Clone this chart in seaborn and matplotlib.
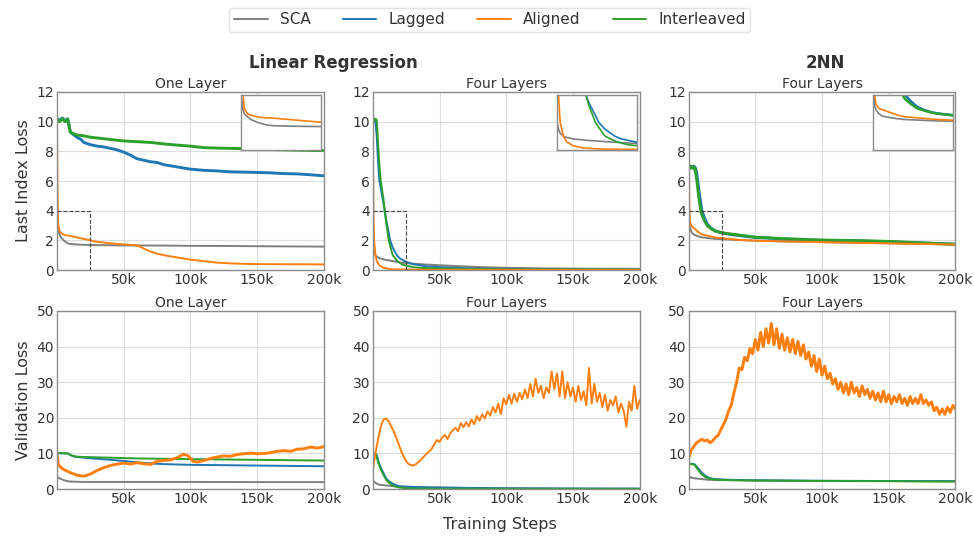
import numpy as np
import pandas as pd
import matplotlib
matplotlib.use("Agg")
import matplotlib.pyplot as plt
import seaborn as sns
from matplotlib.ticker import FuncFormatter
from matplotlib.lines import Line2D

# Colours per method
COLORS = {"SCA": "#7f7f7f", "Lagged": "#1f77b4", "Aligned": "#ff7f0e", "Interleaved": "#2ca02c"}
METHODS = ["SCA", "Lagged", "Aligned", "Interleaved"]

# ---------------- data (steps in thousands) ----------------
# Row 1: last index loss
LR1_SCA_X = [0, 0.5, 1, 2, 3, 5, 8, 10, 15, 20, 30, 50, 80, 100, 130, 160, 200]
LR1_SCA_Y = [4.0, 3.0, 2.6, 2.4, 2.2, 2.0, 1.8, 1.75, 1.72, 1.7, 1.68, 1.66, 1.65, 1.63, 1.62, 1.6, 1.58]
LR1_LAG_X = [0, 2, 4, 6, 8, 9, 10, 12, 15, 18, 20, 25, 30, 35, 40, 45, 50, 55, 60, 65, 70, 75, 80, 90,
             100, 110, 120, 130, 140, 150, 160, 170, 180, 190, 200]
LR1_LAG_Y = [10.2, 10.1, 10.25, 10.05, 10.2, 9.8, 9.3, 9.15, 8.95, 8.8, 8.6, 8.45, 8.35, 8.3, 8.2, 8.1, 7.95,
             7.75, 7.5, 7.4, 7.3, 7.25, 7.1, 6.95, 6.8, 6.72, 6.68, 6.62, 6.6, 6.58, 6.55, 6.5, 6.48, 6.42, 6.35]
LR1_ALI_X = [0, 0.3, 0.6, 1, 2, 4, 6, 10, 15, 20, 25, 30, 40, 50, 55, 60, 63, 66, 70, 75, 80, 90,
             100, 110, 120, 130, 140, 150, 175, 200]
LR1_ALI_Y = [10.0, 6.0, 4.0, 3.0, 2.6, 2.45, 2.35, 2.3, 2.2, 2.1, 2.0, 1.9, 1.8, 1.73, 1.7, 1.65, 1.55, 1.4,
             1.25, 1.1, 1.0, 0.85, 0.7, 0.6, 0.5, 0.45, 0.42, 0.4, 0.39, 0.38]
LR1_INT_X = [0, 2, 4, 6, 8, 9, 10, 12, 15, 20, 25, 30, 40, 50, 60, 70, 80, 90, 100, 110, 120, 130, 140,
             150, 160, 170, 180, 190, 200]
LR1_INT_Y = [10.15, 10.0, 10.2, 10.0, 10.15, 9.7, 9.3, 9.2, 9.1, 9.05, 8.95, 8.9, 8.8, 8.7, 8.65, 8.6,
             8.5, 8.42, 8.35, 8.25, 8.22, 8.2, 8.18, 8.15, 8.12, 8.1, 8.08, 8.06, 8.05]

LR4_SCA_X = [0, 0.5, 1, 2, 3, 5, 8, 10, 15, 20, 25, 30, 40, 60, 80, 100, 130, 160, 200]
LR4_SCA_Y = [2.0, 1.5, 1.2, 1.0, 0.9, 0.8, 0.72, 0.68, 0.6, 0.52, 0.47, 0.43, 0.37, 0.28, 0.2, 0.15, 0.11, 0.09, 0.08]
LR4_LAG_X = [0, 1, 2, 3, 4, 5, 6, 8, 9, 10, 12, 13, 15, 18, 20, 25, 30, 40, 60, 80, 100, 150, 200]
LR4_LAG_Y = [10.1, 10.2, 10.0, 9.0, 7.2, 6.0, 5.5, 4.5, 4.0, 3.4, 2.5, 2.0, 1.5, 1.0, 0.8, 0.55, 0.4, 0.25,
             0.15, 0.1, 0.08, 0.06, 0.05]
LR4_ALI_X = [0, 0.3, 0.6, 1, 2, 3, 5, 8, 12, 15, 20, 30, 50, 100, 200]
LR4_ALI_Y = [10.0, 6.0, 3.5, 2.0, 1.0, 0.6, 0.3, 0.15, 0.08, 0.05, 0.04, 0.03, 0.02, 0.02, 0.02]
LR4_INT_X = [0, 1, 2, 3, 4, 5, 6, 8, 9, 10, 12, 14, 15, 18, 20, 22, 25, 30, 35, 50, 80, 100, 200]
LR4_INT_Y = [10.2, 10.0, 10.2, 10.1, 8.5, 7.0, 6.0, 4.8, 4.0, 3.2, 2.0, 1.3, 1.0, 0.65, 0.5, 0.38, 0.3, 0.2,
             0.15, 0.1, 0.07, 0.05, 0.04]

NN4_SCA_X = [0, 0.3, 0.6, 1, 2, 3, 5, 8, 10, 15, 20, 25, 30, 50, 80, 100, 150, 200]
NN4_SCA_Y = [12.0, 5.0, 3.2, 2.9, 2.6, 2.45, 2.35, 2.25, 2.2, 2.15, 2.1, 2.08, 2.05, 1.98, 1.92, 1.88, 1.8, 1.75]
NN4_LAG_X = [0, 1, 2, 3, 4, 5, 6, 7, 8, 9, 10, 12, 14, 16, 18, 20, 25, 30, 40, 50, 70, 100, 130, 150, 175, 200]
NN4_LAG_Y = [7.1, 6.9, 7.0, 6.85, 7.0, 6.9, 6.6, 5.9, 5.2, 4.6, 4.0, 3.5, 3.1, 2.9, 2.75, 2.65, 2.5, 2.42,
             2.3, 2.2, 2.1, 2.0, 1.95, 1.9, 1.82, 1.75]
NN4_ALI_X = [0, 0.3, 0.6, 1, 2, 3, 5, 8, 10, 15, 20, 30, 40, 60, 100, 150, 200]
NN4_ALI_Y = [12.0, 7.0, 4.0, 3.3, 3.0, 2.9, 2.75, 2.5, 2.4, 2.3, 2.2, 2.1, 2.02, 1.95, 1.88, 1.8, 1.72]
NN4_INT_X = [0, 1, 2, 3, 4, 5, 6, 7, 8, 9, 10, 12, 14, 16, 18, 20, 25, 30, 40, 50, 70, 100, 130, 150, 175, 200]
NN4_INT_Y = [7.0, 6.85, 7.0, 6.9, 6.95, 6.7, 6.2, 5.4, 4.7, 4.1, 3.7, 3.3, 3.0, 2.85, 2.72, 2.62, 2.52, 2.45,
             2.33, 2.22, 2.12, 2.02, 1.98, 1.93, 1.83, 1.72]

# Row 2: validation loss
V_LR1_SCA_X = [0, 2, 5, 8, 10, 15, 20, 50, 100, 150, 200]
V_LR1_SCA_Y = [3.5, 3.0, 2.5, 2.2, 2.1, 2.05, 2.0, 2.0, 2.0, 1.95, 1.95]
V_LR1_LAG_X = [0, 4, 8, 10, 12, 15, 20, 30, 40, 50, 60, 70, 80, 90, 100, 125, 150, 175, 200]
V_LR1_LAG_Y = [10.1, 10.0, 10.0, 9.6, 9.2, 9.0, 8.8, 8.5, 8.2, 7.9, 7.5, 7.2, 7.0, 6.9, 6.8, 6.7, 6.6, 6.5, 6.4]
V_LR1_ALI_X = [0, 1, 3, 5, 10, 15, 20, 25, 30, 35, 40, 45, 50, 55, 60, 65, 70, 75, 80, 85, 90, 95, 98,
               102, 105, 110, 115, 120, 125, 130, 135, 140, 145, 150, 155, 160, 165, 170, 175, 180, 185,
               190, 195, 200]
V_LR1_ALI_Y = [10.0, 7.0, 6.0, 5.5, 4.6, 3.9, 3.6, 4.2, 5.2, 6.0, 6.6, 7.0, 7.3, 7.0, 7.4, 7.1, 6.9, 7.8,
               8.0, 8.2, 8.8, 9.8, 9.4, 7.8, 7.6, 8.0, 8.6, 9.0, 9.3, 9.2, 9.7, 9.9, 10.1, 9.9, 10.0, 10.2,
               10.6, 10.8, 10.6, 11.2, 11.3, 11.8, 11.5, 11.9]
V_LR1_INT_X = [0, 4, 8, 10, 12, 15, 20, 30, 40, 60, 80, 100, 125, 150, 175, 200]
V_LR1_INT_Y = [10.1, 10.1, 10.0, 9.6, 9.3, 9.1, 9.0, 8.9, 8.8, 8.6, 8.5, 8.4, 8.3, 8.2, 8.1, 8.0]

V_LR4_SCA_X = [0, 1, 3, 5, 10, 15, 20, 30, 50, 100, 150, 200]
V_LR4_SCA_Y = [2.5, 2.0, 1.5, 1.2, 1.0, 0.8, 0.6, 0.5, 0.4, 0.2, 0.12, 0.1]
V_LR4_LAG_X = [0, 2, 3, 4, 6, 8, 10, 12, 15, 18, 20, 30, 40, 60, 100, 150, 200]
V_LR4_LAG_Y = [10.0, 10.0, 9.5, 8.0, 6.0, 4.5, 3.0, 2.2, 1.5, 1.0, 0.8, 0.6, 0.5, 0.35, 0.2, 0.12, 0.1]
V_LR4_ALI_X = list(range(0, 201, 2))
V_LR4_ALI_Y = [5, 10, 14, 17.5, 19.5, 19.8, 19, 17.5, 16, 14, 12, 10, 8.5, 7.3, 6.8, 6.6, 6.9, 7.5, 8.2, 9.0,
               9.8, 10.5, 11.2, 12.5, 13.8, 13.2, 14.5, 15.2, 14.0, 15.6, 16.5, 17.2, 16.3, 18.5, 17.4, 18.8,
               17.6, 19.5, 18.2, 20.5, 19.2, 21.0, 19.8, 21.8, 20.6, 23.0, 21.5, 24.0, 21.0, 25.5, 23.8, 26.5,
               24.0, 26.8, 24.5, 27.0, 25.2, 28.0, 25.5, 29.5, 26.0, 31.0, 27.0, 29.0, 25.5, 28.5, 27.0, 33.0,
               28.0, 32.5, 26.0, 33.0, 25.5, 30.0, 26.0, 28.5, 24.5, 29.0, 25.0, 27.5, 23.5, 34.0, 24.0, 29.5,
               24.5, 27.0, 23.0, 26.5, 22.0, 25.0, 23.5, 26.0, 21.5, 24.0, 22.0, 17.5, 24.5, 22.0, 29.0, 22.5,
               25.0]
V_LR4_INT_X = [0, 2, 3, 4, 6, 8, 10, 12, 15, 18, 20, 25, 30, 50, 100, 200]
V_LR4_INT_Y = [10.0, 10.0, 9.0, 7.5, 5.5, 4.0, 2.6, 1.8, 1.0, 0.6, 0.4, 0.25, 0.15, 0.08, 0.05, 0.05]

V_NN4_SCA_X = [0, 2, 5, 10, 15, 20, 30, 50, 100, 150, 200]
V_NN4_SCA_Y = [3.6, 3.2, 3.0, 2.8, 2.6, 2.55, 2.5, 2.4, 2.3, 2.25, 2.2]
V_NN4_LAG_X = [0, 2, 4, 5, 6, 8, 9, 10, 12, 14, 16, 18, 20, 25, 30, 50, 100, 150, 200]
V_NN4_LAG_Y = [7.0, 7.1, 7.0, 6.8, 6.3, 5.5, 5.0, 4.6, 3.9, 3.4, 3.1, 2.9, 2.8, 2.7, 2.6, 2.45, 2.3, 2.25, 2.2]
V_NN4_ALI_X = list(range(0, 201, 2))
V_NN4_ALI_Y = [8.5, 11, 12, 13, 13.5, 14, 13.5, 13.8, 13, 13.5, 14.5, 15, 16.5, 18, 19.5, 22, 23.5, 27, 30, 34,
               33.5, 37, 36, 39.5, 38, 42, 39, 44, 40, 45, 41, 46.5, 40.5, 45, 39.5, 43.5, 39, 42.5, 38.5, 42,
               38, 41.5, 37.5, 40.5, 36.5, 38.5, 34.5, 37.5, 33, 36.5, 32, 34.5, 31, 32.5, 29.5, 31, 28, 30, 27,
               29.5, 26.5, 30, 27, 28.5, 26, 29, 26.5, 28, 25.5, 27.5, 25, 27, 24.5, 27.5, 24.5, 26.5, 24, 26,
               24.5, 26.5, 24, 25.5, 23.5, 26, 24, 25.5, 24, 26.5, 24, 25, 23.5, 24.5, 22, 23, 21, 22.5, 21, 23,
               21.5, 23.5, 22.5]
V_NN4_INT_X = [0, 2, 4, 5, 6, 8, 9, 10, 12, 14, 16, 18, 20, 25, 30, 50, 100, 150, 200]
V_NN4_INT_Y = [7.0, 7.0, 6.9, 6.5, 6.0, 5.0, 4.5, 4.1, 3.5, 3.1, 2.9, 2.75, 2.65, 2.55, 2.5, 2.4, 2.25, 2.2, 2.1]

PANELS = [
    [  # top row
        {"title": "One Layer", "ylim": (0, 12), "yticks": [0, 2, 4, 6, 8, 10, 12], "inset": True,
         "thick": ["Lagged", "Interleaved"],
         "series": {"SCA": (LR1_SCA_X, LR1_SCA_Y), "Lagged": (LR1_LAG_X, LR1_LAG_Y),
                    "Aligned": (LR1_ALI_X, LR1_ALI_Y), "Interleaved": (LR1_INT_X, LR1_INT_Y)}},
        {"title": "Four Layers", "ylim": (0, 12), "yticks": [0, 2, 4, 6, 8, 10, 12], "inset": True,
         "thick": [],
         "series": {"SCA": (LR4_SCA_X, LR4_SCA_Y), "Lagged": (LR4_LAG_X, LR4_LAG_Y),
                    "Aligned": (LR4_ALI_X, LR4_ALI_Y), "Interleaved": (LR4_INT_X, LR4_INT_Y)}},
        {"title": "Four Layers", "ylim": (0, 12), "yticks": [0, 2, 4, 6, 8, 10, 12], "inset": True,
         "thick": ["Lagged", "Interleaved"],
         "series": {"SCA": (NN4_SCA_X, NN4_SCA_Y), "Lagged": (NN4_LAG_X, NN4_LAG_Y),
                    "Aligned": (NN4_ALI_X, NN4_ALI_Y), "Interleaved": (NN4_INT_X, NN4_INT_Y)}},
    ],
    [  # bottom row
        {"title": "One Layer", "ylim": (0, 50), "yticks": [0, 10, 20, 30, 40, 50], "inset": False,
         "thick": ["Aligned"],
         "series": {"SCA": (V_LR1_SCA_X, V_LR1_SCA_Y), "Lagged": (V_LR1_LAG_X, V_LR1_LAG_Y),
                    "Aligned": (V_LR1_ALI_X, V_LR1_ALI_Y), "Interleaved": (V_LR1_INT_X, V_LR1_INT_Y)}},
        {"title": "Four Layers", "ylim": (0, 50), "yticks": [0, 10, 20, 30, 40, 50], "inset": False,
         "thick": [],
         "series": {"SCA": (V_LR4_SCA_X, V_LR4_SCA_Y), "Lagged": (V_LR4_LAG_X, V_LR4_LAG_Y),
                    "Aligned": (V_LR4_ALI_X, V_LR4_ALI_Y), "Interleaved": (V_LR4_INT_X, V_LR4_INT_Y)}},
        {"title": "Four Layers", "ylim": (0, 50), "yticks": [0, 10, 20, 30, 40, 50], "inset": False,
         "thick": ["Aligned"],
         "series": {"SCA": (V_NN4_SCA_X, V_NN4_SCA_Y), "Lagged": (V_NN4_LAG_X, V_NN4_LAG_Y),
                    "Aligned": (V_NN4_ALI_X, V_NN4_ALI_Y), "Interleaved": (V_NN4_INT_X, V_NN4_INT_Y)}},
    ],
]
DRAW_ORDER = ["SCA", "Lagged", "Interleaved", "Aligned"]
ZOOM_X = 25  # inset window (k steps)
ZOOM_Y = 4

TEXT = "#333333"
sns.set_theme(style="whitegrid")
plt.rcParams.update({
    "font.family": ["DejaVu Sans"],
    "axes.edgecolor": "#8c8c8c",
    "axes.linewidth": 1.0,
    "grid.color": "#dddddd",
    "grid.linewidth": 0.8,
    "text.color": TEXT,
    "axes.labelcolor": TEXT,
    "xtick.color": TEXT,
    "ytick.color": TEXT,
    "xtick.labelsize": 10,
    "ytick.labelsize": 10,
})

k_fmt = FuncFormatter(lambda v, _: f"{int(v)}k")


def draw_series(ax, series, thick, base_lw=1.4):
    for m in DRAW_ORDER:
        xs, ys = series[m]
        df = pd.DataFrame({"step": xs, "loss": ys})
        lw = base_lw * 1.5 if m in thick else base_lw
        sns.lineplot(data=df, x="step", y="loss", color=COLORS[m], lw=lw, ax=ax,
                     estimator=None, sort=False, legend=False)


fig, axes = plt.subplots(2, 3, figsize=(9.74, 5.38), dpi=100)
fig.subplots_adjust(left=0.0585, right=0.981, top=0.829, bottom=0.091, wspace=0.183, hspace=0.23)

for r in range(2):
    for c in range(3):
        ax = axes[r, c]
        p = PANELS[r][c]
        draw_series(ax, p["series"], p["thick"])
        ax.set_xlim(0, 200)
        ax.set_ylim(*p["ylim"])
        ax.set_xticks([50, 100, 150, 200])
        ax.xaxis.set_major_formatter(k_fmt)
        ax.set_yticks(p["yticks"])
        ax.set_title(p["title"], fontsize=10, pad=3, color=TEXT)
        ax.set_xlabel("")
        ax.set_ylabel("")
        ax.tick_params(axis="both", pad=2, length=0)
        for s in ax.spines.values():
            s.set_visible(True)
            s.set_color("#8c8c8c")

        if p["inset"]:
            ax.plot([0, ZOOM_X, ZOOM_X], [ZOOM_Y, ZOOM_Y, 0], ls="--", lw=0.8, color="#444444", zorder=5)
            ins = ax.inset_axes([0.69, 0.675, 0.30, 0.31])
            draw_series(ins, p["series"], p["thick"], base_lw=1.2)
            ins.set_xlim(0, ZOOM_X)
            ins.set_ylim(0, ZOOM_Y)
            ins.set_xticks([])
            ins.set_yticks([])
            ins.set_xlabel("")
            ins.set_ylabel("")
            ins.grid(False)
            ins.set_facecolor("white")
            for s in ins.spines.values():
                s.set_visible(True)
                s.set_color("#8c8c8c")
                s.set_linewidth(1.0)

axes[0, 0].set_ylabel("Last Index Loss", fontsize=11.5)
axes[1, 0].set_ylabel("Validation Loss", fontsize=11.5)
fig.text(0.513, 0.012, "Training Steps", ha="center", va="bottom", fontsize=11.5, color=TEXT)
fig.text(333 / 974, 1 - 63 / 538, "Linear Regression", ha="center", va="center",
         fontsize=12, fontweight="bold", color=TEXT)
fig.text(825 / 974, 1 - 63 / 538, "2NN", ha="center", va="center",
         fontsize=12, fontweight="bold", color=TEXT)

handles = [Line2D([0], [0], color=COLORS[m], lw=1.4) for m in METHODS]
fig.legend(handles, METHODS, loc="upper center", bbox_to_anchor=(0.503, 1.0), ncol=4,
           frameon=True, fontsize=11, handlelength=2.2, columnspacing=2.1,
           borderpad=0.3, edgecolor="#dddddd")

fig.savefig("out.png", dpi=100)
plt.close(fig)
